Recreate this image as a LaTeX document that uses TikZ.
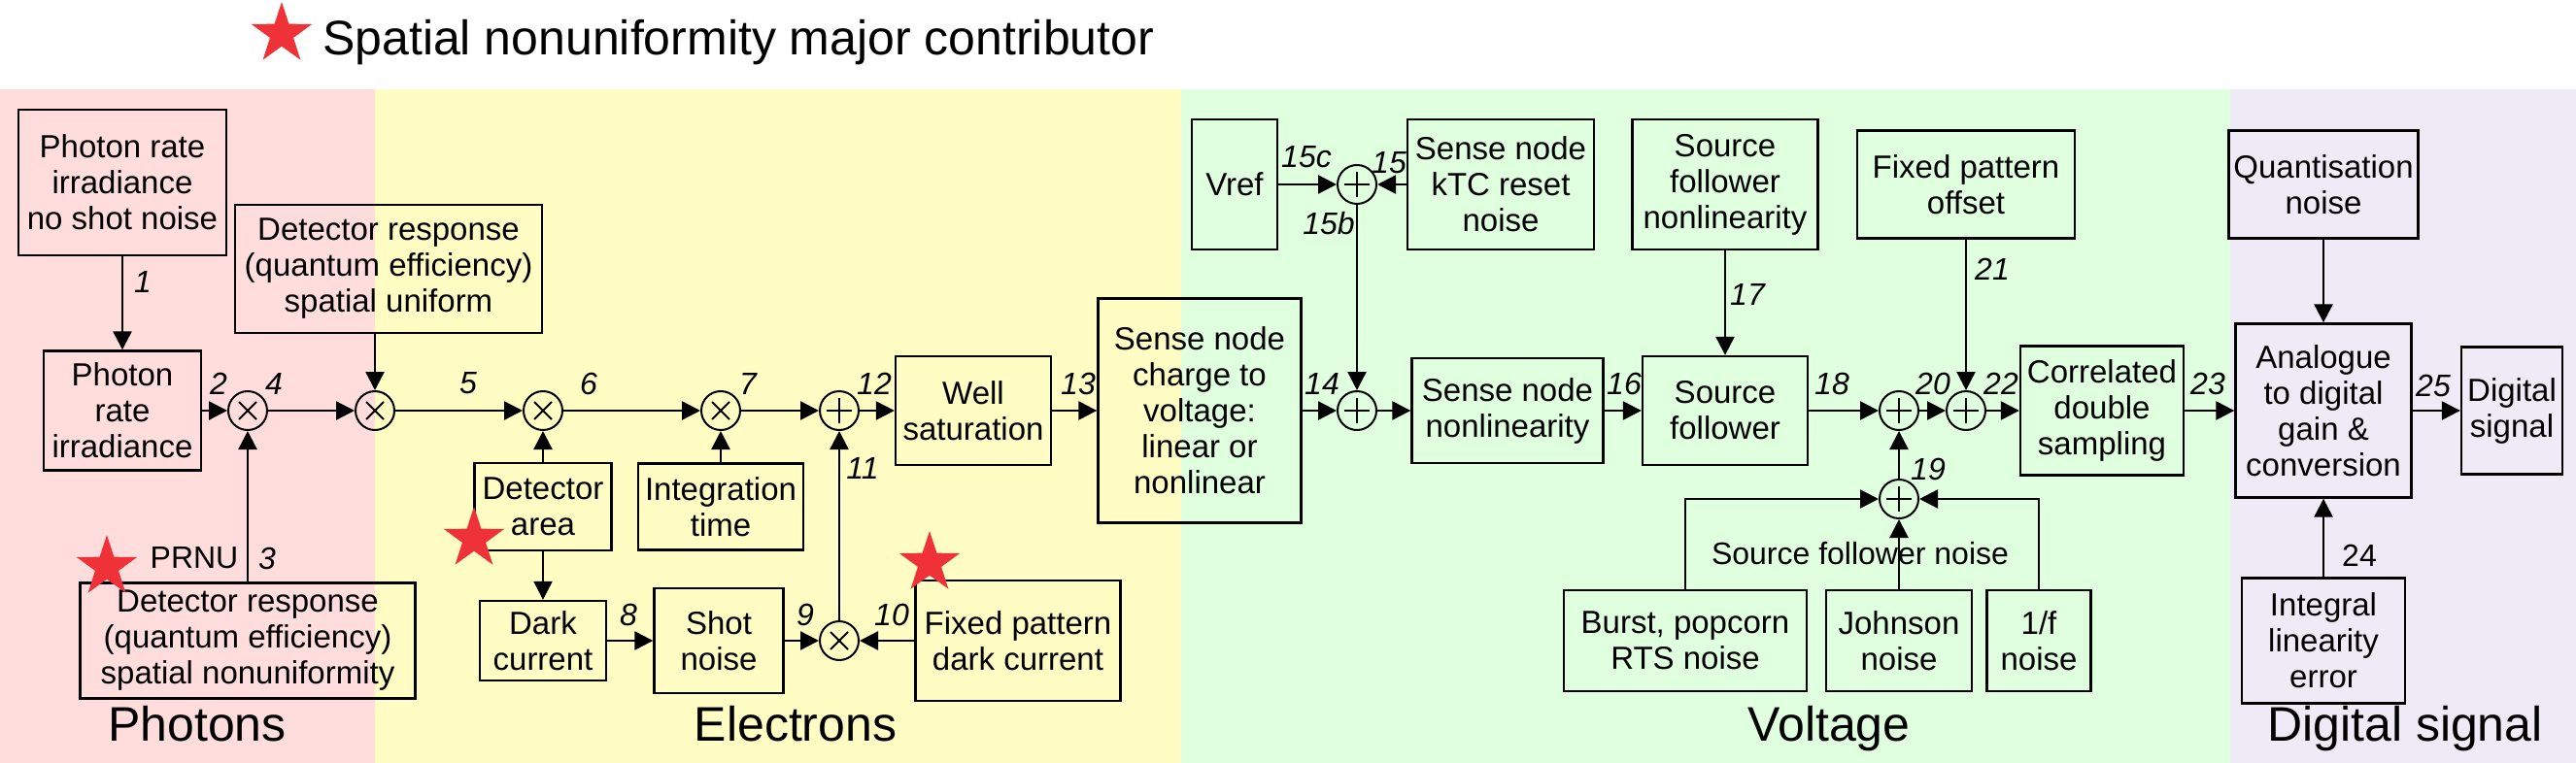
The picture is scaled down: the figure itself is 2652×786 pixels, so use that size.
\documentclass[tikz,border=0pt]{standalone}
\usepackage{fontspec}
\setmainfont{Liberation Sans}
\usetikzlibrary{arrows.meta,shapes.geometric}
\definecolor{photbg}{RGB}{255,221,221}
\definecolor{elecbg}{RGB}{255,252,196}
\definecolor{voltbg}{RGB}{224,255,222}
\definecolor{digbg}{RGB}{238,235,246}
\definecolor{starred}{RGB}{238,50,56}

\begin{document}
\begin{tikzpicture}[x=1pt, y=-1pt, draw=black,
  every node/.style={font=\fontsize{33}{37}\selectfont},
  blk/.style={draw, line width=2.4pt, align=center, inner sep=2pt},
  arr/.style={line width=2.4pt, -{Triangle[length=19pt,width=19pt]}},
  lbl/.style={font=\fontsize{32}{37}\selectfont\itshape, inner sep=0pt},
  txt/.style={font=\fontsize{32}{37}\selectfont, inner sep=0pt},
  zone/.style={font=\fontsize{50}{55}\selectfont, anchor=base, inner sep=0pt},
  mul/.style={circle, draw, line width=2pt, minimum size=40pt, inner sep=0pt,
    path picture={\draw[line width=1.8pt]
      ([shift={(-9pt,-9pt)}]path picture bounding box.center) -- ([shift={(9pt,9pt)}]path picture bounding box.center)
      ([shift={(-9pt,9pt)}]path picture bounding box.center) -- ([shift={(9pt,-9pt)}]path picture bounding box.center);}},
  add/.style={circle, draw, line width=2pt, minimum size=40pt, inner sep=0pt,
    path picture={\draw[line width=1.8pt]
      ([xshift=-13pt]path picture bounding box.center) -- ([xshift=13pt]path picture bounding box.center)
      ([yshift=-13pt]path picture bounding box.center) -- ([yshift=13pt]path picture bounding box.center);}},
  contrib/.style={star, star points=5, star point ratio=2.6, fill=starred, minimum size=66pt, inner sep=0pt}]

\useasboundingbox (0,0) rectangle (2652,786);
\fill[photbg] (0,92) rectangle (386,786);
\fill[elecbg] (386,92) rectangle (1216,786);
\fill[voltbg] (1216,92) rectangle (2296,786);
\fill[digbg] (2296,92) rectangle (2652,786);

\node[contrib] (s0) at (290,35) {};
\node[zone, anchor=base west] (key) at (332,57) {Spatial nonuniformity major contributor};

% photons
\node[blk, minimum width=214pt, minimum height=150pt] (srcA) at (126,188) {Photon rate\\irradiance\\no shot noise};
\node[blk, minimum width=162pt, minimum height=123pt] (phot) at (126,423) {Photon\\rate\\irradiance};
\node[blk, minimum width=316pt, minimum height=132pt] (qeU) at (400,277) {Detector response\\(quantum efficiency)\\spatial uniform};
\node[blk, minimum width=345pt, minimum height=119pt] (qeN) at (255,660) {Detector response\\(quantum efficiency)\\spatial nonuniformity};
\node[mul] (m1) at (255,423) {};
\node[mul] (m2) at (386,423) {};

% electrons
\node[mul] (m3) at (559,423) {};
\node[mul] (m4) at (742,423) {};
\node[add] (p1) at (864,423) {};
\node[mul] (m5) at (864,660) {};
\node[blk, minimum width=141pt, minimum height=90pt] (area) at (559,522) {Detector\\area};
\node[blk, minimum width=170pt, minimum height=89pt] (tint) at (742,522) {Integration\\time};
\node[blk, minimum width=130pt, minimum height=82pt] (dark) at (559,660) {Dark\\current};
\node[blk, minimum width=133pt, minimum height=108pt] (shot) at (740,660) {Shot\\noise};
\node[blk, minimum width=211pt, minimum height=124pt] (fpd) at (1048,660) {Fixed pattern\\dark current};
\node[blk, minimum width=160pt, minimum height=112pt] (well) at (1002,423) {Well\\saturation};
\node[blk, minimum width=209pt, minimum height=231pt] (snc) at (1235,423) {Sense node\\charge to\\voltage:\\linear or\\nonlinear};

% voltage
\node[blk, minimum width=88pt, minimum height=134pt] (vref) at (1271,190) {Vref};
\node[add] (p3) at (1397,190) {};
\node[blk, minimum width=192pt, minimum height=134pt] (ktc) at (1545,190) {Sense node\\kTC reset\\noise};
\node[blk, minimum width=191pt, minimum height=134pt] (sfnl) at (1776,190) {Source\\follower\\nonlinearity};
\node[blk, minimum width=224pt, minimum height=111pt] (fpo) at (2024,190) {Fixed pattern\\offset};
\node[add] (p2) at (1397,423) {};
\node[blk, minimum width=197pt, minimum height=108pt] (snnl) at (1552,423) {Sense node\\nonlinearity};
\node[blk, minimum width=170pt, minimum height=112pt] (sf) at (1776,423) {Source\\follower};
\node[add] (p4) at (1955,423) {};
\node[add] (p5) at (2024,423) {};
\node[add] (p6) at (1955,514) {};
\node[blk, minimum width=168pt, minimum height=133pt] (cds) at (2164,423) {Correlated\\double\\sampling};
\node[blk, minimum width=250pt, minimum height=104pt] (burst) at (1735,660) {Burst, popcorn\\RTS noise};
\node[blk, minimum width=150pt, minimum height=104pt] (john) at (1955,660) {Johnson\\noise};
\node[blk, minimum width=107pt, minimum height=104pt] (onef) at (2099,660) {1/f\\noise};

% digital signal
\node[blk, minimum width=195pt, minimum height=111pt] (qn) at (2392,190) {Quantisation\\noise};
\node[blk, minimum width=181pt, minimum height=179pt] (adc) at (2392,423) {Analogue\\to digital\\gain \&\\conversion};
\node[blk, minimum width=104pt, minimum height=131pt] (dig) at (2586,423) {Digital\\signal};
\node[blk, minimum width=168pt, minimum height=129pt] (ile) at (2392,660) {Integral\\linearity\\error};

\draw[arr] (srcA) -- (phot);
\draw[arr] (phot) -- (m1);
\draw[arr] (qeN) -- (m1);
\draw[arr] (m1) -- (m2);
\draw[arr] (qeU.south -| m2) -- (m2);
\draw[arr] (m2) -- (m3);
\draw[arr] (area) -- (m3);
\draw[arr] (area) -- (dark);
\draw[arr] (m3) -- (m4);
\draw[arr] (tint) -- (m4);
\draw[arr] (m4) -- (p1);
\draw[arr] (dark) -- (shot);
\draw[arr] (shot) -- (m5);
\draw[arr] (fpd) -- (m5);
\draw[arr] (m5) -- (p1);
\draw[arr] (p1) -- (well);
\draw[arr] (well) -- (snc);
\draw[arr] (snc) -- (p2);
\draw[arr] (vref) -- (p3);
\draw[arr] (ktc) -- (p3);
\draw[arr] (p3) -- (p2);
\draw[arr] (p2) -- (snnl);
\draw[arr] (snnl) -- (sf);
\draw[arr] (sfnl) -- (sf);
\draw[arr] (sf) -- (p4);
\draw[arr] (p4) -- (p5);
\draw[arr] (fpo) -- (p5);
\draw[arr] (p5) -- (cds);
\draw[arr] (cds) -- (adc);
\draw[arr] (qn) -- (adc);
\draw[arr] (ile) -- (adc);
\draw[arr] (adc) -- (dig);
\draw[arr] (p6) -- (p4);
\draw[arr] (burst) |- (p6);
\draw[arr] (john) -- (p6);
\draw[arr] (onef) |- (p6);

\node[lbl] (l1) at (147,290) {1};
\node[lbl] (l2) at (225,395) {2};
\node[txt] (lprnu) at (200,575) {PRNU};
\node[lbl] (l3) at (275,575) {3};
\node[lbl] (l4) at (282,395) {4};
\node[lbl] (l5) at (482,395) {5};
\node[lbl] (l6) at (606,395) {6};
\node[lbl] (l7) at (770,395) {7};
\node[lbl] (l8) at (647,633) {8};
\node[lbl] (l9) at (829,633) {9};
\node[lbl] (l10) at (918,633) {10};
\node[lbl] (l11) at (888,482) {11};
\node[lbl] (l12) at (900,395) {12};
\node[lbl] (l13) at (1110,395) {13};
\node[lbl] (l14) at (1361,395) {14};
\node[lbl] (l15c) at (1345,162) {15c};
\node[lbl] (l15) at (1430,168) {15};
\node[lbl] (l15b) at (1368,230) {15b};
\node[lbl] (l16) at (1672,395) {16};
\node[lbl] (l17) at (1799,303) {17};
\node[lbl] (l18) at (1886,395) {18};
\node[lbl] (l19) at (1985,483) {19};
\node[lbl] (l20) at (1990,395) {20};
\node[lbl] (l21) at (2051,277) {21};
\node[lbl] (l22) at (2060,395) {22};
\node[lbl] (l23) at (2273,395) {23};
\node[txt] (l24) at (2429,572) {24};
\node[lbl] (l25) at (2505,397) {25};
\node[txt] (lsfn) at (1915,570) {Source follower noise};

\node[contrib] (s1) at (110,584) {};
\node[contrib] (s2) at (488,555) {};
\node[contrib] (s3) at (957,580) {};

\node[zone] (zph) at (203,763) {Photons};
\node[zone] (zel) at (819,763) {Electrons};
\node[zone] (zvo) at (1883,763) {Voltage};
\node[zone] (zdi) at (2476,763) {Digital signal};
\end{tikzpicture}
\end{document}
